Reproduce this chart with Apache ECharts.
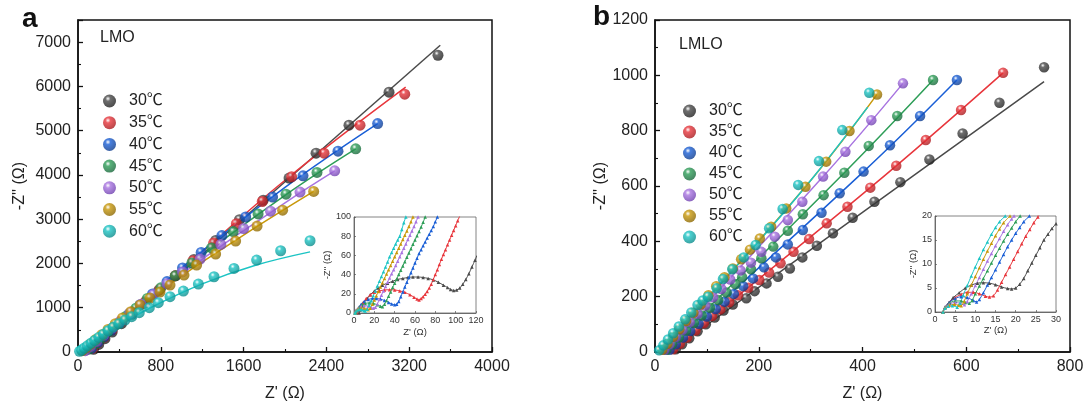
<!DOCTYPE html>
<html><head><meta charset="utf-8">
<script src="https://cdn.jsdelivr.net/npm/echarts@6/dist/echarts.min.js"></script>
<style>html,body{margin:0;padding:0;background:#fff}#c{width:1088px;height:408px}</style>
</head><body><div id="c"></div>
<script>
// ---------- categories ----------
const temps = ['30℃','35℃','40℃','45℃','50℃','55℃','60℃'];
const colors = ['#4a4a4a','#e8363c','#1a5fd6','#2e9e58','#a874e0','#c8980a','#1cc4c4'];
const darks  = ['#1e1e1e','#a8181c','#0c3a8c','#17663a','#6e3fae','#8a6600','#0a8a8a'];

// ---------- tick labels ----------
const aXTicks = [0,800,1600,2400,3200,4000];
const aYTicks = [0,1000,2000,3000,4000,5000,6000,7000];
const bXTicks = [0,200,400,600,800];
const bYTicks = [0,200,400,600,800,1000,1200];

// ---------- panel a (LMO) main: measured points ----------
const aPts30 = [[150,60],[200,170],[260,300],[330,450],[420,640],[520,850],[640,1100],[780,1390],[940,1720],[1120,2090],[1330,2520],[1560,2990],[1790,3430],[2039,3928],[2300,4492],[2618,5124],[3005,5869],[3478,6704]];
const aPts35 = [[140,80],[190,200],[250,330],[330,500],[420,690],[530,910],[650,1140],[790,1420],[940,1720],[1110,2060],[1310,2460],[1530,2900],[1780,3400],[2064,3957],[2377,4492],[2725,5124],[3157,5824]];
const aPts40 = [[130,80],[190,210],[250,340],[320,490],[400,660],[490,850],[600,1070],[720,1310],[860,1590],[1010,1900],[1190,2250],[1390,2630],[1620,3050],[1880,3500],[2174,3980],[2512,4537],[2895,5160]];
const aPts45 = [[100,60],[160,180],[220,310],[290,460],[370,620],[460,800],[560,990],[670,1210],[800,1450],[940,1720],[1100,2010],[1290,2350],[1500,2720],[1740,3120],[2010,3566],[2309,4056],[2683,4589]];
const aPts50 = [[70,30],[120,120],[180,240],[250,380],[330,540],[410,700],[500,880],[610,1080],[730,1300],[860,1540],[1010,1810],[1180,2100],[1380,2430],[1600,2790],[1860,3180],[2145,3612],[2480,4092]];
const aPts55 = [[40,30],[80,100],[120,180],[170,280],[230,390],[290,510],[360,640],[430,770],[510,910],[600,1060],[696,1219],[792,1354],[889,1512],[1024,1738],[1146,1964],[1330,2212],[1523,2505],[1730,2844],[1977,3205],[2277,3627]];
const aPts60 = [[15,15],[35,45],[60,90],[90,140],[125,200],[160,260],[200,330],[245,400],[290,480],[340,560],[395,640],[454,722],[519,797],[592,887],[689,1000],[776,1113],[889,1249],[1018,1377],[1163,1535],[1314,1700],[1507,1889],[1726,2077],[1958,2287],[2242,2513]];
// panel a main: fitted curves
const aFit30 = [[130,0],[3500,6930]];
const aFit35 = [[110,0],[1000,1850],[2000,3880],[3166,5982]];
const aFit40 = [[90,0],[1000,1900],[2000,3720],[2895,5160]];
const aFit45 = [[70,0],[1000,1820],[2000,3540],[2683,4589]];
const aFit50 = [[50,0],[1000,1760],[2000,3370],[2480,4092]];
const aFit55 = [[30,0],[800,1390],[1600,2640],[2277,3627]];
const aFit60 = [[0,0],[300,480],[700,1000],[1200,1540],[1700,1950],[2242,2262]];

// ---------- panel a inset ----------
const aIn30 = [[5,0],[6,3],[8,7],[10,11],[13,15],[16,19],[20,23],[24,26],[28,29],[33,31],[38,33],[43,35],[48,36],[53,37],[58,37.5],[63,37.5],[68,37],[73,36],[78,34.5],[83,32],[88,29],[92,26.5],[95,24.5],[98,23.5],[101,24],[104,26],[107,30],[110,35],[113,41],[116,48],[119,55],[121,60]];
const aIn35 = [[3,0],[4,3],[6,7],[9,11],[12,15],[16,19],[20,21.5],[25,23],[30,24],[35,24.2],[40,24],[45,23],[50,21.5],[55,19],[59,16.5],[62,14.5],[64,13.5],[66,15],[68,17],[70,19.5],[72,22.5],[74,26],[76,30],[78,35],[80,40],[82,45],[84,50.5],[86,56],[88,61],[90,66],[92,71],[94,76],[96,81],[98,86],[100,91],[102,96],[104,101]];
const aIn40 = [[2,0],[3,3],[5,6],[7,9],[10,12],[14,14],[18,15],[22,15],[26,14.5],[30,13],[34,11],[37,9.5],[40,8.5],[42,9],[44,12],[46,17],[48,22],[50,27],[52,32],[54,37],[56,42],[58,47],[60,52],[62,57],[64,62],[66,66],[68,70],[70,74],[72,78],[74,82],[76,86],[78,90],[80,95],[82,100]];
const aIn45 = [[2,0],[3,3],[5,6],[8,8.5],[11,10],[15,10.5],[19,10],[23,8.5],[26,7],[28,6.5],[30,9],[32,13],[34,17.5],[36,22],[38,26.5],[40,31],[42,35.5],[44,40],[46,44.5],[48,49],[50,53.5],[52,58],[54,62.5],[56,67],[58,71.5],[60,76],[62,80.5],[64,85],[66,89.5],[68,94.5],[70,100]];
const aIn50 = [[1,0],[2,3],[4,5],[7,7],[10,7.5],[14,7],[17,5.5],[19,5],[21,6],[23,9.5],[25,14],[27,18.5],[29,23],[31,27.5],[33,32],[35,36.5],[37,41],[39,45],[41,49.5],[43,54],[45,58.5],[47,63],[49,67.5],[51,72],[53,76.5],[55,81],[57,85.5],[59,90],[61,95],[63,100]];
const aIn55 = [[1,0],[2,2.5],[4,4.5],[7,5.5],[10,5],[12,4],[14,3.5],[16,5],[18,9],[20,13.5],[22,18],[24,22.5],[26,27],[28,31.5],[30,36],[32,40.5],[34,45],[36,49.5],[38,54],[40,58.5],[42,63],[44,67.5],[46,72],[48,76.5],[50,81],[52,85.5],[54,90],[56,95],[58,100]];
const aIn60 = [[1,0],[2,2],[4,3.5],[6,4],[8,3.5],[10,2.5],[11,2.2],[13,4],[15,8],[17,13],[19,18],[21,23],[23,28],[25,33],[27,38],[29,43],[31,48],[33,53],[35,58.5],[37,63],[39,67.5],[41,72],[43,76],[45,80],[47,87],[49,94],[51,100]];

// ---------- panel b (LMLO) main: measured points ----------
const bPts30 = [[40,10],[52,28],[66,50],[82,75],[98,100],[115,125],[132,150],[150,172],[176,194],[192,220],[215,248],[237,272],[260,302],[284,342],[312,384],[343,429],[381,485],[423,543],[473,614],[529,696],[593,790],[664,901],[750,1029]];
const bPts35 = [[35,10],[48,30],[62,52],[78,78],[94,104],[110,130],[126,154],[143,180],[160,205],[180,232],[201,260],[220,287],[242,321],[267,362],[297,408],[331,465],[371,525],[415,594],[465,673],[522,766],[590,875],[671,1009]];
const bPts40 = [[28,8],[40,28],[54,52],[68,76],[84,102],[100,128],[117,155],[134,182],[152,210],[170,238],[189,266],[210,306],[233,342],[256,389],[285,441],[321,503],[356,574],[402,652],[453,747],[511,853],[582,983]];
const bPts45 = [[22,8],[33,28],[46,52],[60,78],[75,105],[90,132],[106,160],[122,188],[138,215],[155,245],[168,270],[185,299],[205,339],[228,381],[256,438],[285,498],[325,567],[365,648],[412,745],[467,853],[536,983]];
const bPts50 = [[18,8],[28,28],[40,54],[53,80],[67,108],[82,138],[97,168],[112,198],[128,228],[145,262],[165,295],[185,323],[205,362],[231,417],[256,477],[284,543],[324,634],[367,724],[417,838],[478,971]];
const bPts55 = [[14,8],[24,30],[35,55],[47,82],[60,112],[74,142],[88,172],[103,205],[118,238],[134,270],[150,302],[166,335],[183,370],[202,410],[224,453],[253,519],[290,597],[330,688],[375,799],[428,931]];
const bPts60 = [[8,6],[16,24],[25,45],[35,68],[46,92],[58,118],[70,143],[82,170],[92,186],[102,200],[119,230],[131,264],[149,299],[171,342],[194,387],[220,447],[246,517],[276,604],[316,690],[361,802],[413,937]];
// panel b main: fitted curves
const bFit30 = [[28,0],[400,505],[750,977]];
const bFit35 = [[25,0],[415,594],[671,1009]];
const bFit40 = [[20,0],[402,652],[582,983]];
const bFit45 = [[16,0],[365,648],[536,983]];
const bFit50 = [[12,0],[324,634],[478,971]];
const bFit55 = [[8,0],[290,597],[428,931]];
const bFit60 = [[4,0],[200,400],[300,620],[410,885]];

// ---------- panel b inset ----------
const bIn30 = [[2,0],[2.5,1],[3.5,2],[4.5,3],[6,4],[7.5,5],[9,5.6],[10.5,6],[12,6.1],[13.5,6],[15,5.7],[16.5,5.2],[18,4.9],[19,4.8],[20,5],[21,5.8],[22,7],[23,8.6],[24,10.2],[25,11.8],[26,13.4],[27,15],[28,16.2],[29,17.4],[30,18.4]];
const bIn35 = [[2,0],[2.5,1],[3.5,2],[5,3],[6.5,3.7],[8,4.1],[9.5,4.1],[11,3.8],[12.5,3.3],[13.5,3.1],[14.5,3.4],[15.5,4.6],[16.5,6.2],[17.5,7.8],[18.5,9.4],[19.5,11],[20.5,12.6],[21.5,14.2],[22.5,15.8],[23.5,17.2],[24.5,18.6],[25.5,19.8],[26,20.4]];
const bIn40 = [[2,0],[2.5,1],[3.5,2],[5,2.8],[6.5,3.2],[8,3],[9.5,2.4],[10.3,2.1],[11,2.6],[12,4],[13,5.6],[14,7.2],[15,8.8],[16,10.4],[17,12],[18,13.6],[19,15],[20,16.4],[21,17.6],[22,18.8],[23.4,20]];
const bIn45 = [[2,0],[2.5,1],[3.5,1.8],[5,2.3],[6.5,2.3],[7.5,2],[8.5,1.8],[9.2,2.4],[10,3.8],[11,5.4],[12,7],[13,8.6],[14,10.2],[15,11.8],[16,13.3],[17,14.8],[18,16.2],[19,17.5],[20,18.8],[21.1,20]];
const bIn50 = [[2,0],[2.5,1],[3.5,1.6],[5,2],[6.3,1.8],[7.3,1.5],[8,2.2],[9,3.8],[10,5.5],[11,7.2],[12,8.9],[13,10.6],[14,12.2],[15,13.8],[16,15.3],[17,16.8],[18,18.2],[19,19.4],[19.6,20]];
const bIn55 = [[2,0],[2.5,0.9],[3.5,1.4],[4.8,1.6],[5.8,1.4],[6.5,1.3],[7.2,2.2],[8,3.8],[9,5.6],[10,7.4],[11,9.2],[12,11],[13,12.7],[14,14.3],[15,15.9],[16,17.3],[17,18.6],[18.6,20]];
const bIn60 = [[2,0],[2.5,0.8],[3.3,1.2],[4.3,1.3],[5.5,1],[6.2,1.8],[7,3.5],[8,5.5],[9,7.5],[10,9.4],[11,11.2],[12,13],[13,14.6],[14,16.2],[15,17.6],[16,18.8],[17.4,20]];

const aPts = [aPts30,aPts35,aPts40,aPts45,aPts50,aPts55,aPts60];
const aFit = [aFit30,aFit35,aFit40,aFit45,aFit50,aFit55,aFit60];
const aIn  = [aIn30,aIn35,aIn40,aIn45,aIn50,aIn55,aIn60];
const bPts = [bPts30,bPts35,bPts40,bPts45,bPts50,bPts55,bPts60];
const bFit = [bFit30,bFit35,bFit40,bFit45,bFit50,bFit55,bFit60];
const bIn  = [bIn30,bIn35,bIn40,bIn45,bIn50,bIn55,bIn60];

const FONT = '"Liberation Sans", Arial, "Noto Sans", sans-serif';
const LFONT = '"Liberation Sans", "Noto Sans CJK SC", sans-serif';
function ball(i){
  return {type:'radial', x:0.38, y:0.32, r:0.7, colorStops:[
    {offset:0,color:'#ffffff'},{offset:0.28,color:colors[i]},{offset:1,color:darks[i]}]};
}
function mainAxis(gi, min, max, interval, pos, name, gap, minorSplit, ticks){
  return {
    gridIndex:gi, type:'value', min:min, max:max, interval:interval, position:pos,
    name:name, nameLocation:'middle', nameGap:gap,
    nameTextStyle:{fontFamily:FONT, fontSize:16, color:'#222'},
    axisLine:{show:true, onZero:false, lineStyle:{color:'#111', width:1.5}},
    axisTick:{show:true, inside:true, length:5, lineStyle:{color:'#111', width:1.3}},
    minorTick:{show:true, splitNumber:minorSplit, length:3, lineStyle:{color:'#111', width:1.1}},
    splitLine:{show:false},
    axisLabel:{fontFamily:FONT, fontSize:16, color:'#222', margin:7,
      formatter: v => ticks.indexOf(v) >= 0 ? String(v) : ''}
  };
}
function insetAxis(gi, min, max, interval, pos, name, gap){
  return {
    gridIndex:gi, type:'value', min:min, max:max, interval:interval, position:pos, z:8,
    name:name, nameLocation:'middle', nameGap:gap,
    nameTextStyle:{fontFamily:FONT, fontSize:9.5, color:'#333'},
    axisLine:{show:true, onZero:false, lineStyle:{color:'#555', width:0.8}},
    axisTick:{show:true, inside:true, length:2, lineStyle:{color:'#555', width:0.7}},
    splitLine:{show:false},
    axisLabel:{fontFamily:FONT, fontSize:9, color:'#333', margin:3, formatter: v => String(v)}
  };
}

const series = [];
for (let i=0;i<7;i++){
  series.push({name:temps[i]+' fit a', type:'line', xAxisIndex:0, yAxisIndex:0, data:aFit[i], smooth:0.4,
    showSymbol:false, lineStyle:{color:colors[i], width:1.5}, z:2, silent:true});
  series.push({name:temps[i], type:'scatter', xAxisIndex:0, yAxisIndex:0, data:aPts[i], symbol:'circle', symbolSize:11,
    itemStyle:{color:ball(i)}, z:3});
}
for (let i=0;i<7;i++){
  series.push({name:temps[i]+' in a', type:'line', xAxisIndex:1, yAxisIndex:1, data:aIn[i], smooth:0.3,
    symbol:'triangle', symbolSize:3.5, showSymbol:true, itemStyle:{color:colors[i]},
    lineStyle:{color:colors[i], width:1}, z:9, silent:true});
}
for (let i=0;i<7;i++){
  series.push({name:temps[i]+' fit b', type:'line', xAxisIndex:2, yAxisIndex:2, data:bFit[i], smooth:0.4,
    showSymbol:false, lineStyle:{color:colors[i], width:1.5}, z:2, silent:true});
  series.push({name:temps[i], type:'scatter', xAxisIndex:2, yAxisIndex:2, data:bPts[i], symbol:'circle', symbolSize:10.5,
    itemStyle:{color:ball(i)}, z:3});
}
for (let i=0;i<7;i++){
  series.push({name:temps[i]+' in b', type:'line', xAxisIndex:3, yAxisIndex:3, data:bIn[i], smooth:0.3,
    symbol:'triangle', symbolSize:3.5, showSymbol:true, itemStyle:{color:colors[i]},
    lineStyle:{color:colors[i], width:1}, z:9, silent:true});
}

function legend(left, top, gap){
  return {data:temps, orient:'vertical', left:left, top:top, icon:'circle', itemWidth:13, itemHeight:13,
    itemGap:gap, selectedMode:false,
    textStyle:{fontFamily:LFONT, fontSize:16, color:'#222', lineHeight:16, padding:[0,0,0,8]}};
}

const option = {
  animation:false,
  backgroundColor:'#fff',
  grid:[
    {left:78, top:20, width:414, height:332, show:true, borderColor:'#111', borderWidth:1.5, backgroundColor:'transparent'},
    {left:354, top:217, width:122, height:96, show:true, borderColor:'#666', borderWidth:0.8, backgroundColor:'#fff', z:6},
    {left:655, top:20, width:415, height:332, show:true, borderColor:'#111', borderWidth:1.5, backgroundColor:'transparent'},
    {left:935, top:216, width:121, height:96, show:true, borderColor:'#666', borderWidth:0.8, backgroundColor:'#fff', z:6}
  ],
  xAxis:[
    mainAxis(0, aXTicks[0], aXTicks[aXTicks.length-1], aXTicks[1]-aXTicks[0], 'bottom', "Z' (Ω)", 34, 2, aXTicks),
    insetAxis(1, 0, 120, 20, 'bottom', "Z' (Ω)", 14),
    mainAxis(2, bXTicks[0], bXTicks[bXTicks.length-1], bXTicks[1]-bXTicks[0], 'bottom', "Z' (Ω)", 34, 2, bXTicks),
    insetAxis(3, 0, 30, 5, 'bottom', "Z' (Ω)", 13)
  ],
  yAxis:[
    mainAxis(0, aYTicks[0], 7500, aYTicks[1]-aYTicks[0], 'left', "-Z'' (Ω)", 50, 2, aYTicks),
    insetAxis(1, 0, 100, 20, 'left', "-Z'' (Ω)", 18),
    mainAxis(2, bYTicks[0], bYTicks[bYTicks.length-1], bYTicks[1]-bYTicks[0], 'left', "-Z'' (Ω)", 42, 2, bYTicks),
    insetAxis(3, 0, 20, 5, 'left', "-Z'' (Ω)", 15)
  ],
  legend:[ legend(98, 88, 5.7), legend(678, 98, 5) ],
  graphic:[
    {type:'text', left:22, top:5, style:{text:'a', font:'bold 28px '+FONT, fill:'#111'}},
    {type:'text', left:593, top:3, style:{text:'b', font:'bold 28px '+FONT, fill:'#111'}},
    {type:'text', left:100, top:30, style:{text:'LMO', font:'16px '+FONT, fill:'#222'}},
    {type:'text', left:679, top:37, style:{text:'LMLO', font:'16px '+FONT, fill:'#222'}}
  ],
  series:series
};
const chart = echarts.init(document.getElementById('c'), null, {renderer:'canvas'});
chart.setOption(option);
</script></body></html>
